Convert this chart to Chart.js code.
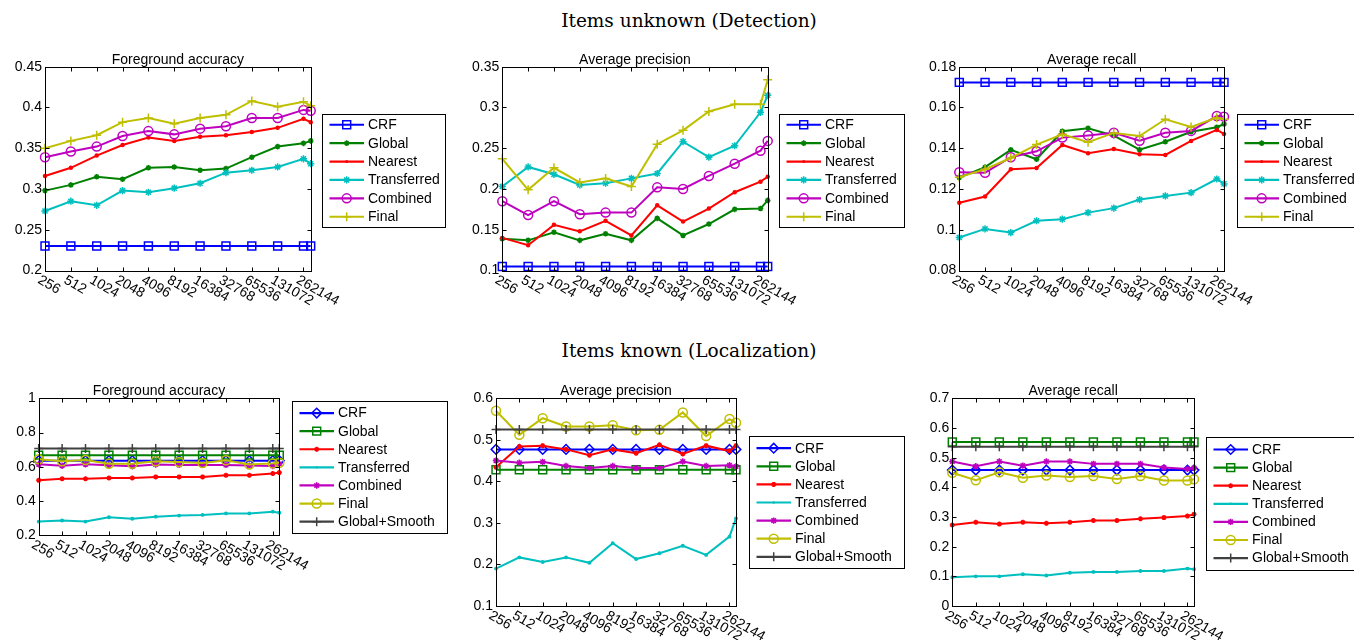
<!DOCTYPE html>
<html><head><meta charset="utf-8">
<script src="https://cdn.jsdelivr.net/npm/chart.js@4.4.1/dist/chart.umd.min.js"></script>
<style>
html,body{margin:0;padding:0;background:#fff;width:1354px;height:640px;overflow:hidden;position:relative}
canvas{position:absolute}
.sup{position:absolute;left:439px;width:500px;text-align:center;font-family:'DejaVu Serif',serif;font-size:18.5px;line-height:18px;color:#000;white-space:nowrap}
</style></head><body>
<div class="sup" style="top:12px">Items unknown (Detection)</div>
<div class="sup" style="top:342px">Items known (Localization)</div>
<canvas id="c1"></canvas><canvas id="c2"></canvas><canvas id="c3"></canvas>
<canvas id="c4"></canvas><canvas id="c5"></canvas><canvas id="c6"></canvas>
<script>
// ---------------- DATA ----------------
const sampleSizes = [256, 512, 1024, 2048, 4096, 8192, 16384, 32768, 65536, 131072, 262144, 318000];
const xTickValues = [256, 512, 1024, 2048, 4096, 8192, 16384, 32768, 65536, 131072, 262144];
const xTickLabels = ['256', '512', '1024', '2048', '4096', '8192', '16384', '32768', '65536', '131072', '262144'];

const seriesNamesDetection = ['CRF', 'Global', 'Nearest', 'Transferred', 'Combined', 'Final'];
const seriesNamesLocalization = ['CRF', 'Global', 'Nearest', 'Transferred', 'Combined', 'Final', 'Global+Smooth'];
const panelTitles = ['Foreground accuracy', 'Average precision', 'Average recall'];

// Items unknown (Detection) - Foreground accuracy
const detFgCRF = [0.23, 0.23, 0.23, 0.23, 0.23, 0.23, 0.23, 0.23, 0.23, 0.23, 0.23, 0.23];
const detFgGlobal = [0.298, 0.305, 0.315, 0.312, 0.326, 0.327, 0.323, 0.325, 0.339, 0.352, 0.356, 0.359];
const detFgNearest = [0.316, 0.326, 0.341, 0.354, 0.363, 0.359, 0.364, 0.366, 0.370, 0.375, 0.386, 0.382];
const detFgTransferred = [0.273, 0.285, 0.280, 0.298, 0.296, 0.301, 0.307, 0.320, 0.323, 0.327, 0.337, 0.331];
const detFgCombined = [0.339, 0.346, 0.352, 0.365, 0.371, 0.367, 0.374, 0.377, 0.387, 0.387, 0.397, 0.396];
const detFgFinal = [0.350, 0.359, 0.366, 0.382, 0.387, 0.380, 0.387, 0.391, 0.408, 0.401, 0.407, 0.402];
const yTicksDetFg = [0.2, 0.25, 0.3, 0.35, 0.4, 0.45];

// Items unknown (Detection) - Average precision
const detApCRF = [0.105, 0.105, 0.105, 0.105, 0.105, 0.105, 0.105, 0.105, 0.105, 0.105, 0.105, 0.105];
const detApGlobal = [0.139, 0.137, 0.147, 0.137, 0.145, 0.137, 0.164, 0.143, 0.157, 0.175, 0.176, 0.186];
const detApNearest = [0.140, 0.131, 0.156, 0.148, 0.161, 0.143, 0.180, 0.160, 0.176, 0.196, 0.209, 0.215];
const detApTransferred = [0.203, 0.227, 0.218, 0.205, 0.207, 0.213, 0.219, 0.258, 0.239, 0.253, 0.294, 0.315];
const detApCombined = [0.185, 0.168, 0.185, 0.169, 0.171, 0.171, 0.202, 0.200, 0.216, 0.231, 0.247, 0.259];
const detApFinal = [0.237, 0.199, 0.226, 0.208, 0.213, 0.203, 0.255, 0.272, 0.295, 0.304, 0.304, 0.334];
const yTicksDetAp = [0.1, 0.15, 0.2, 0.25, 0.3, 0.35];

// Items unknown (Detection) - Average recall
const detArCRF = [0.1723, 0.1723, 0.1723, 0.1723, 0.1723, 0.1723, 0.1723, 0.1723, 0.1723, 0.1723, 0.1723, 0.1723];
const detArGlobal = [0.1256, 0.1307, 0.1392, 0.1346, 0.1483, 0.1498, 0.1462, 0.1393, 0.1432, 0.1481, 0.1503, 0.1519];
const detArNearest = [0.1132, 0.1163, 0.1297, 0.1303, 0.1416, 0.1375, 0.1396, 0.1370, 0.1367, 0.1436, 0.1490, 0.1470];
const detArTransferred = [0.0962, 0.1004, 0.0986, 0.1044, 0.1052, 0.1084, 0.1106, 0.1148, 0.1166, 0.1182, 0.1249, 0.1225];
const detArCombined = [0.1282, 0.1280, 0.1356, 0.1385, 0.1452, 0.1463, 0.1476, 0.1437, 0.1476, 0.1485, 0.1558, 0.1555];
const detArFinal = [0.1258, 0.1297, 0.1352, 0.1418, 0.1468, 0.1429, 0.1475, 0.1460, 0.1542, 0.1504, 0.1550, 0.1542];
const yTicksDetAr = [0.08, 0.1, 0.12, 0.14, 0.16, 0.18];

// Items known (Localization) - Foreground accuracy
const locFgCRF = [0.636, 0.636, 0.636, 0.636, 0.636, 0.636, 0.636, 0.636, 0.636, 0.636, 0.636, 0.636];
const locFgGlobal = [0.668, 0.668, 0.668, 0.668, 0.668, 0.668, 0.668, 0.668, 0.668, 0.668, 0.668, 0.668];
const locFgNearest = [0.521, 0.530, 0.530, 0.535, 0.535, 0.541, 0.541, 0.541, 0.551, 0.551, 0.561, 0.566];
const locFgTransferred = [0.280, 0.286, 0.280, 0.305, 0.297, 0.309, 0.315, 0.319, 0.328, 0.328, 0.338, 0.332];
const locFgCombined = [0.615, 0.606, 0.615, 0.609, 0.603, 0.613, 0.611, 0.611, 0.611, 0.607, 0.605, 0.618];
const locFgFinal = [0.644, 0.632, 0.640, 0.618, 0.618, 0.632, 0.628, 0.622, 0.638, 0.613, 0.620, 0.624];
const locFgGlobalSmooth = [0.707, 0.707, 0.707, 0.707, 0.707, 0.707, 0.707, 0.707, 0.707, 0.707, 0.707, 0.707];
const yTicksLocFg = [0.2, 0.4, 0.6, 0.8, 1];

// Items known (Localization) - Average precision
const locApCRF = [0.477, 0.477, 0.477, 0.477, 0.477, 0.477, 0.477, 0.477, 0.477, 0.477, 0.477, 0.477];
const locApGlobal = [0.428, 0.428, 0.428, 0.428, 0.428, 0.428, 0.428, 0.428, 0.428, 0.428, 0.428, 0.428];
const locApNearest = [0.434, 0.484, 0.486, 0.477, 0.463, 0.477, 0.468, 0.488, 0.466, 0.486, 0.473, 0.486];
const locApTransferred = [0.190, 0.217, 0.206, 0.217, 0.204, 0.251, 0.213, 0.227, 0.245, 0.223, 0.267, 0.311];
const locApCombined = [0.450, 0.445, 0.447, 0.437, 0.432, 0.437, 0.432, 0.432, 0.448, 0.437, 0.439, 0.436];
const locApFinal = [0.570, 0.512, 0.552, 0.532, 0.532, 0.535, 0.523, 0.524, 0.566, 0.509, 0.550, 0.541];
const locApGlobalSmooth = [0.525, 0.525, 0.525, 0.525, 0.525, 0.525, 0.525, 0.525, 0.525, 0.525, 0.525, 0.525];
const yTicksLocAp = [0.1, 0.2, 0.3, 0.4, 0.5, 0.6];

// Items known (Localization) - Average recall
const locArCRF = [0.458, 0.458, 0.458, 0.458, 0.458, 0.458, 0.458, 0.458, 0.458, 0.458, 0.458, 0.458];
const locArGlobal = [0.553, 0.553, 0.553, 0.553, 0.553, 0.553, 0.553, 0.553, 0.553, 0.553, 0.553, 0.553];
const locArNearest = [0.273, 0.282, 0.276, 0.282, 0.279, 0.282, 0.288, 0.288, 0.294, 0.298, 0.303, 0.309];
const locArTransferred = [0.097, 0.100, 0.100, 0.107, 0.103, 0.112, 0.115, 0.115, 0.118, 0.118, 0.126, 0.124];
const locArCombined = [0.487, 0.471, 0.487, 0.473, 0.487, 0.487, 0.479, 0.479, 0.479, 0.467, 0.462, 0.465];
const locArFinal = [0.449, 0.424, 0.451, 0.432, 0.440, 0.435, 0.438, 0.428, 0.438, 0.423, 0.423, 0.427];
const locArGlobalSmooth = [0.537, 0.537, 0.537, 0.537, 0.537, 0.537, 0.537, 0.537, 0.537, 0.537, 0.537, 0.537];
const yTicksLocAr = [0, 0.1, 0.2, 0.3, 0.4, 0.5, 0.6, 0.7];

// ---------------- STYLES ----------------
const FONT = '"Liberation Sans", Arial, Helvetica, sans-serif';
const detStyles = [
  { color: '#0000ff', point: 'rect', r: 5.6, fill: false },
  { color: '#008000', point: 'star', r: 2.8, fill: false },
  { color: '#ff0000', point: 'circle', r: 1.5, fill: true },
  { color: '#00bfbf', point: 'star', r: 3.6, fill: false },
  { color: '#bf00bf', point: 'circle', r: 4.5, fill: false },
  { color: '#bfbf00', point: 'cross', r: 4.5, fill: false }
];
const locStyles = [
  { color: '#0000ff', point: 'rectRot', r: 4.8, fill: false },
  { color: '#008000', point: 'rect', r: 5.6, fill: false },
  { color: '#ff0000', point: 'star', r: 2.5, fill: false },
  { color: '#00bfbf', point: 'circle', r: 1.2, fill: true },
  { color: '#bf00bf', point: 'star', r: 3.2, fill: false },
  { color: '#bfbf00', point: 'circle', r: 4.5, fill: false },
  { color: '#404040', point: 'cross', r: 4.5, fill: false }
];

const panels = [
  { id: 'c1', canvas: [0, 35, 452, 295], area: [45, 66.7, 310.7, 270.5], title: panelTitles[0], yTicks: yTicksDetFg,
    names: seriesNamesDetection, styles: detStyles,
    series: [detFgCRF, detFgGlobal, detFgNearest, detFgTransferred, detFgCombined, detFgFinal],
    legend: [321.7, 113.5, 123.3, 112.5, 18.4] },
  { id: 'c2', canvas: [452, 35, 453, 295], area: [502.3, 66.7, 767.7, 270.5], title: panelTitles[1], yTicks: yTicksDetAp,
    names: seriesNamesDetection, styles: detStyles,
    series: [detApCRF, detApGlobal, detApNearest, detApTransferred, detApCombined, detApFinal],
    legend: [779.3, 113.5, 124.7, 112.5, 18.4] },
  { id: 'c3', canvas: [905, 35, 449, 295], area: [959.3, 66.7, 1224, 270.5], title: panelTitles[2], yTicks: yTicksDetAr,
    names: seriesNamesDetection, styles: detStyles,
    series: [detArCRF, detArGlobal, detArNearest, detArTransferred, detArCombined, detArFinal],
    legend: [1236.7, 113.5, 124, 112.5, 18.4] },
  { id: 'c4', canvas: [0, 370, 452, 270], area: [38.7, 398.3, 279.3, 535.3], title: panelTitles[0], yTicks: yTicksLocFg,
    names: seriesNamesLocalization, styles: locStyles,
    series: [locFgCRF, locFgGlobal, locFgNearest, locFgTransferred, locFgCombined, locFgFinal, locFgGlobalSmooth],
    legend: [291.7, 401, 155, 131.7, 18.1] },
  { id: 'c5', canvas: [452, 370, 453, 270], area: [496, 398.3, 736, 606], title: panelTitles[1], yTicks: yTicksLocAp,
    names: seriesNamesLocalization, styles: locStyles,
    series: [locApCRF, locApGlobal, locApNearest, locApTransferred, locApCombined, locApFinal, locApGlobalSmooth],
    legend: [749.3, 436, 155, 132, 18.1] },
  { id: 'c6', canvas: [905, 370, 449, 270], area: [952.3, 398.3, 1194, 606], title: panelTitles[2], yTicks: yTicksLocAr,
    names: seriesNamesLocalization, styles: locStyles,
    series: [locArCRF, locArGlobal, locArNearest, locArTransferred, locArCombined, locArFinal, locArGlobalSmooth],
    legend: [1206, 436.7, 155, 132.6, 18.1] }
];

function drawMarker(ctx, st, x, y) {
  const r = st.r;
  ctx.save();
  ctx.strokeStyle = st.color; ctx.fillStyle = st.color; ctx.lineWidth = 1.5;
  ctx.beginPath();
  if (st.point === 'rect') {
    const s = r * Math.SQRT1_2;
    ctx.rect(x - s, y - s, 2 * s, 2 * s); ctx.stroke();
  } else if (st.point === 'rectRot') {
    ctx.moveTo(x, y - r); ctx.lineTo(x + r, y); ctx.lineTo(x, y + r); ctx.lineTo(x - r, y); ctx.closePath(); ctx.stroke();
  } else if (st.point === 'circle') {
    ctx.arc(x, y, r, 0, Math.PI * 2);
    if (st.fill) ctx.fill(); else ctx.stroke();
  } else if (st.point === 'cross' || st.point === 'star') {
    ctx.moveTo(x, y - r); ctx.lineTo(x, y + r); ctx.moveTo(x - r, y); ctx.lineTo(x + r, y);
    if (st.point === 'star') {
      const d = r * Math.SQRT1_2;
      ctx.moveTo(x - d, y - d); ctx.lineTo(x + d, y + d); ctx.moveTo(x + d, y - d); ctx.lineTo(x - d, y + d);
    }
    ctx.stroke();
  }
  ctx.restore();
}

const panelPlugin = {
  id: 'panel',
  afterDraw(chart) {
    const p = chart.options.plugins.panel.cfg;
    const ctx = chart.ctx, a = chart.chartArea;
    const xs = chart.scales.x, ys = chart.scales.y;
    const ox = p.canvas[0], oy = p.canvas[1];
    ctx.save();
    // axes box
    ctx.strokeStyle = '#000'; ctx.lineWidth = 1;
    const L = Math.round(a.left) + 0.5, T = Math.round(a.top) + 0.5, R = Math.round(a.right) + 0.5, B = Math.round(a.bottom) + 0.5;
    ctx.strokeRect(L, T, R - L, B - T);
    // inward ticks on all four sides
    ctx.beginPath();
    xTickValues.forEach(v => {
      const px = Math.round(xs.getPixelForValue(v)) + 0.5;
      ctx.moveTo(px, B); ctx.lineTo(px, B - 4);
      ctx.moveTo(px, T); ctx.lineTo(px, T + 4);
    });
    p.yTicks.forEach(v => {
      const py = Math.round(ys.getPixelForValue(v)) + 0.5;
      ctx.moveTo(L, py); ctx.lineTo(L + 4, py);
      ctx.moveTo(R, py); ctx.lineTo(R - 4, py);
    });
    ctx.stroke();
    // rotated x tick labels
    ctx.fillStyle = '#000';
    ctx.font = '14px ' + FONT; ctx.textAlign = 'left'; ctx.textBaseline = 'top';
    xTickValues.forEach((v, i) => {
      const px = xs.getPixelForValue(v);
      ctx.save(); ctx.translate(px - 2.5, a.bottom + 2.5); ctx.rotate(30 * Math.PI / 180);
      ctx.fillText(xTickLabels[i], 0, 0); ctx.restore();
    });
    // title
    ctx.font = '14px ' + FONT; ctx.textAlign = 'center'; ctx.textBaseline = 'alphabetic';
    ctx.fillText(p.title, (a.left + a.right) / 2, a.top - 3);
    // legend
    const [lx0, ly0, lw, lh, sp] = p.legend;
    const lx = Math.round(lx0 - ox) + 0.5, ly = Math.round(ly0 - oy) + 0.5;
    ctx.fillStyle = '#fff'; ctx.fillRect(lx, ly, lw, lh);
    ctx.strokeStyle = '#000'; ctx.lineWidth = 1; ctx.strokeRect(lx, ly, Math.round(lw), Math.round(lh));
    const n = p.names.length;
    const first = ly + (lh - (n - 1) * sp) / 2;
    p.names.forEach((name, i) => {
      const st = p.styles[i];
      const yy = first + i * sp;
      ctx.strokeStyle = st.color; ctx.lineWidth = 2.2;
      ctx.beginPath(); ctx.moveTo(lx + 7, yy); ctx.lineTo(lx + 41.5, yy); ctx.stroke();
      drawMarker(ctx, st, lx + 24.2, yy);
      ctx.fillStyle = '#000'; ctx.font = '14px ' + FONT; ctx.textAlign = 'left'; ctx.textBaseline = 'middle';
      ctx.fillText(name, lx + 45.5, yy + 0.5);
    });
    ctx.restore();
  }
};

panels.forEach(p => {
  const cv = document.getElementById(p.id);
  const [cx, cy, cw, ch] = p.canvas;
  const [L, T, R, B] = p.area;
  cv.width = cw; cv.height = ch;
  cv.style.left = cx + 'px'; cv.style.top = cy + 'px';
  cv.style.width = cw + 'px'; cv.style.height = ch + 'px';
  const n = p.series.length;
  const datasets = p.series.map((vals, i) => {
    const st = p.styles[i];
    return {
      label: p.names[i],
      data: vals.map((v, k) => ({ x: sampleSizes[k], y: v })),
      borderColor: st.color,
      backgroundColor: st.color,
      borderWidth: 2,
      pointStyle: st.point,
      pointRadius: st.r,
      pointBorderWidth: 1.5,
      pointBorderColor: st.color,
      pointBackgroundColor: st.fill ? st.color : 'rgba(0,0,0,0)',
      pointHoverRadius: st.r,
      tension: 0,
      clip: false,
      order: n - i
    };
  });
  new Chart(cv, {
    type: 'line',
    data: { datasets },
    plugins: [panelPlugin],
    options: {
      responsive: false, animation: false, events: [], devicePixelRatio: 1,
      layout: { padding: { left: 0, top: T - cy, right: cx + cw - R, bottom: 0 } },
      plugins: { legend: { display: false }, title: { display: false }, tooltip: { enabled: false }, panel: { cfg: p } },
      scales: {
        x: {
          type: 'logarithmic', min: sampleSizes[0], max: sampleSizes[sampleSizes.length - 1],
          afterBuildTicks: s => { s.ticks = xTickValues.map(v => ({ value: v })); },
          afterFit: s => { s.height = cy + ch - B; },
          grid: { display: false, drawTicks: false }, border: { display: false },
          ticks: { display: false }
        },
        y: {
          type: 'linear', min: p.yTicks[0], max: p.yTicks[p.yTicks.length - 1],
          afterBuildTicks: s => { s.ticks = p.yTicks.map(v => ({ value: v })); },
          afterFit: s => { s.width = L - cx; },
          grid: { display: false, drawTicks: false }, border: { display: false },
          ticks: { color: '#000', padding: 3, font: { family: FONT, size: 14 },
                   callback: v => String(+Number(v).toFixed(3)) }
        }
      }
    }
  });
});
</script>
</body></html>
